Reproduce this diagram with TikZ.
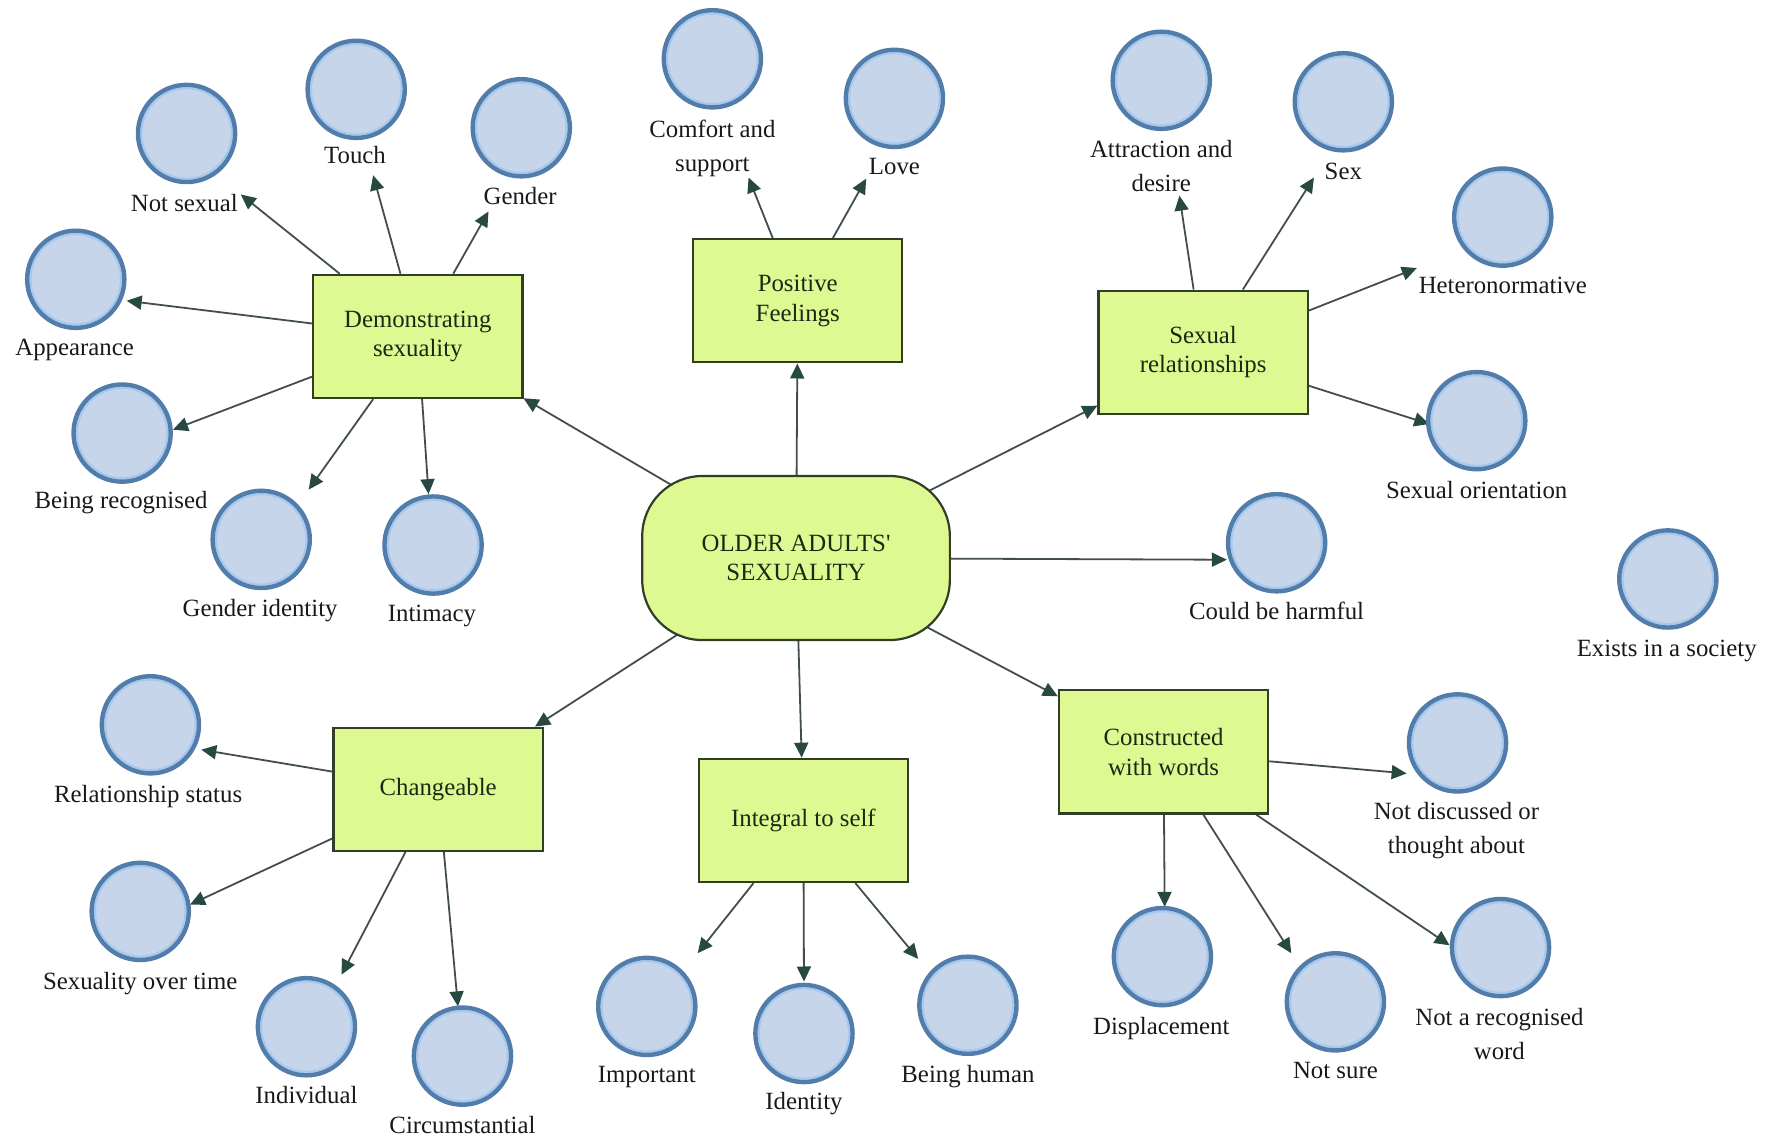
\documentclass[tikz,border=0pt]{standalone}
\usepackage{fontspec}
\setmainfont{Liberation Serif}
\usetikzlibrary{arrows.meta,backgrounds}

\definecolor{boxfill}{RGB}{222,249,145}
\definecolor{boxline}{RGB}{50,62,40}
\definecolor{boxtext}{RGB}{28,40,20}
\definecolor{dotfill}{RGB}{198,213,234}
\definecolor{dotline}{RGB}{82,124,170}
\definecolor{dotring}{RGB}{165,200,238}
\definecolor{linkline}{RGB}{66,78,78}
\definecolor{linkhead}{RGB}{40,72,66}

% straight (unmapped) apostrophe glyph
\newcommand{\straightquote}{\XeTeXglyph\XeTeXcharglyph"27\relax}

\begin{document}
\begin{tikzpicture}[x=0.56535pt,y=-0.56535pt,
  font=\fontsize{12.4}{17}\selectfont,
  theme/.style={draw=boxline, line width=1.1pt, fill=boxfill, text=boxtext,
    minimum width=104.6pt, minimum height=61.6pt, align=center,
    font=\fontsize{12.4}{14.7}\selectfont, inner sep=2pt},
  core/.style={theme, minimum width=153.8pt, minimum height=82pt, rounded corners=30pt},
  dot/.style={circle, draw=dotline, line width=2.2pt, fill=dotfill,
    minimum size=48.6pt, inner sep=0pt,
    path picture={\draw[dotring, line width=1pt]
      (path picture bounding box.center) circle (22.6pt);}},
  tag/.style={align=center, text=black!90, inner sep=1pt,
    text height=0.9em, text depth=0.15em},
  tagtwo/.style={align=center, text=black!90, inner sep=1pt},
  link/.style={draw=linkline, line width=0.9pt,
    -{Triangle[length=7.5pt,width=7pt,color=linkhead]}}
]
\useasboundingbox (0,0) rectangle (1568,1008);

% central topic and themes
\node[core]  (core)   at (704,493.5)  {OLDER ADULTS\straightquote\\SEXUALITY};
\node[theme] (demo)   at (369.5,297.5) {Demonstrating\\sexuality};
\node[theme] (feel)   at (705.5,266)   {Positive\\Feelings};
\node[theme] (rel)    at (1064,311.5)  {Sexual\\relationships};
\node[theme] (change) at (387.5,698)   {Changeable};
\node[theme] (self)   at (710.5,725.5) {Integral to self};
\node[theme] (words)  at (1029,665)    {Constructed\\with words};

% sub-themes: circle plus caption
\node[dot] (c-notsexual) at (165,118) {};  \node[tag] (l-notsexual) at (163,180) {Not sexual};
\node[dot] (c-touch)     at (315,79)  {};  \node[tag] (l-touch)     at (314,138) {Touch};
\node[dot] (c-gender)    at (461,113) {};  \node[tag] (l-gender)    at (460,174) {Gender};
\node[dot] (c-appear)    at (67,247)  {};  \node[tag] (l-appear)    at (66,308)  {Appearance};
\node[dot] (c-recog)     at (108,383) {};  \node[tag] (l-recog)     at (107,443) {Being recognised};
\node[dot] (c-genid)     at (231,477) {};  \node[tag] (l-genid)     at (230,539) {Gender identity};
\node[dot] (c-intim)     at (383,482) {};  \node[tag] (l-intim)     at (382,543) {Intimacy};
\node[dot] (c-comfort)   at (630,52)  {};  \node[tagtwo] (l-comfort) at (630,131) {Comfort and\\support};
\node[dot] (c-love)      at (791,87)  {};  \node[tag] (l-love)      at (791,148) {Love};
\node[dot] (c-attract)   at (1027,71) {};  \node[tagtwo] (l-attract) at (1027,146.5) {Attraction and\\desire};
\node[dot] (c-sex)       at (1188,90) {};  \node[tag] (l-sex)       at (1188,152) {Sex};
\node[dot] (c-hetero)    at (1329,192) {}; \node[tag] (l-hetero)    at (1329,253) {Heteronormative};
\node[dot] (c-orient)    at (1306,372) {}; \node[tag] (l-orient)    at (1306,434) {Sexual orientation};
\node[dot] (c-harm)      at (1129,480) {}; \node[tag] (l-harm)      at (1129,541) {Could be harmful};
\node[dot] (c-society)   at (1475,512) {}; \node[tag] (l-society)   at (1474,574) {Exists in a society};
\node[dot] (c-relstat)   at (133,641) {};  \node[tag] (l-relstat)   at (131,703) {Relationship status};
\node[dot] (c-overtime)  at (124,806) {};  \node[tag] (l-overtime)  at (124,868) {Sexuality over time};
\node[dot] (c-indiv)     at (271,908) {};  \node[tag] (l-indiv)     at (271,969) {Individual};
\node[dot] (c-circum)    at (409,934) {};  \node[tag] (l-circum)    at (409,996) {Circumstantial};
\node[dot] (c-important) at (572,890) {};  \node[tag] (l-important) at (572,951) {Important};
\node[dot] (c-identity)  at (711,914) {};  \node[tag] (l-identity)  at (711,975) {Identity};
\node[dot] (c-human)     at (856,889) {};  \node[tag] (l-human)     at (856,951) {Being human};
\node[dot] (c-displace)  at (1028,846) {}; \node[tag] (l-displace)  at (1027,908) {Displacement};
\node[dot] (c-notsure)   at (1181,886) {}; \node[tag] (l-notsure)   at (1181,947) {Not sure};
\node[dot] (c-notrec)    at (1327,838) {}; \node[tagtwo] (l-notrec)  at (1326,914.5) {Not a recognised\\word};
\node[dot] (c-notdisc)   at (1289,657) {}; \node[tagtwo] (l-notdisc) at (1288,734.5) {Not discussed or\\thought about};

% arrow tips beside the circles and captions
\coordinate (t-notsexual) at (213,172);
\coordinate (t-touch)     at (330,155);
\coordinate (t-gender)    at (432,187);
\coordinate (t-appear)    at (112,266);
\coordinate (t-recog)     at (153,380);
\coordinate (t-genid)     at (273,433);
\coordinate (t-intim)     at (379,437);
\coordinate (t-comfort)   at (662,157);
\coordinate (t-love)      at (766,158);
\coordinate (t-attract)   at (1043,173);
\coordinate (t-sex)       at (1162,157);
\coordinate (t-hetero)    at (1253,237);
\coordinate (t-orient)    at (1264,375);
\coordinate (t-harm)      at (1085,495);
\coordinate (t-relstat)   at (178,663);
\coordinate (t-overtime)  at (168,800);
\coordinate (t-indiv)     at (302,862);
\coordinate (t-circum)    at (405,890);
\coordinate (t-important) at (617,843);
\coordinate (t-identity)  at (711,868);
\coordinate (t-human)     at (812,848);
\coordinate (t-notdisc)   at (1244,684);
\coordinate (t-displace)  at (1030,802);
\coordinate (t-notsure)   at (1142,843);
\coordinate (t-notrec)    at (1282,836);

\begin{scope}[on background layer]
  % from the central topic (its fill hides the inner part)
  \draw[link] (core.center) -- (demo);
  \draw[link] (core.center) -- (feel);
  \draw[link] (core.center) -- (rel);
  \draw[link] (core.center) -- (change);
  \draw[link] (core.center) -- (self);
  \draw[link] (core.center) -- (words);
  \draw[link] (core.center) -- (t-harm);
  % Demonstrating sexuality
  \draw[link] (demo) -- (t-notsexual);
  \draw[link] (demo) -- (t-touch);
  \draw[link] (demo) -- (t-gender);
  \draw[link] (demo) -- (t-appear);
  \draw[link] (demo) -- (t-recog);
  \draw[link] (demo) -- (t-genid);
  \draw[link] (demo) -- (t-intim);
  % Positive feelings
  \draw[link] (feel) -- (t-comfort);
  \draw[link] (feel) -- (t-love);
  % Sexual relationships
  \draw[link] (rel) -- (t-attract);
  \draw[link] (rel) -- (t-sex);
  \draw[link] (rel) -- (t-hetero);
  \draw[link] (rel) -- (t-orient);
  % Changeable
  \draw[link] (change) -- (t-relstat);
  \draw[link] (change) -- (t-overtime);
  \draw[link] (change) -- (t-indiv);
  \draw[link] (change) -- (t-circum);
  % Integral to self
  \draw[link] (self) -- (t-important);
  \draw[link] (self) -- (t-identity);
  \draw[link] (self) -- (t-human);
  % Constructed with words
  \draw[link] (words) -- (t-notdisc);
  \draw[link] (words) -- (t-displace);
  \draw[link] (words) -- (t-notsure);
  \draw[link] (words) -- (t-notrec);
\end{scope}
\end{tikzpicture}
\end{document}
